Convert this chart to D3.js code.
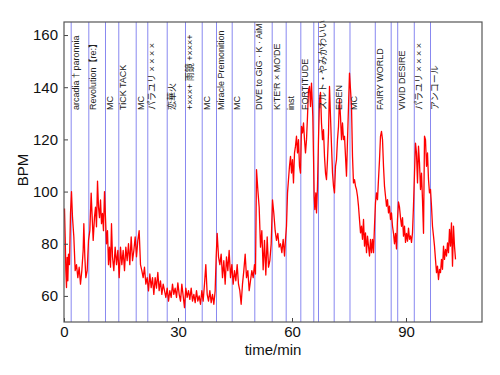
<!DOCTYPE html>
<html>
<head>
<meta charset="utf-8">
<script src="https://cdn.jsdelivr.net/npm/d3@7"></script>
<style>
html,body{margin:0;padding:0;background:#fff;}
svg{display:block;}
text{font-family:"Liberation Sans",Arial,"Noto Sans CJK JP",sans-serif;}
</style>
</head>
<body>
<svg id="chart" width="500" height="375"></svg>
<script>
// ---- data ----
const times = [
0.13,0.31,0.48,0.66,0.83,1.01,1.18,1.45,1.71,1.97,2.24,2.59,2.94,3.29,3.64,3.99,4.34,4.69,5.04,5.22,
5.48,5.75,6.10,6.45,6.80,7.15,7.41,7.68,8.03,8.29,8.55,8.82,9.08,9.34,9.61,9.87,10.13,10.39,10.66,10.92,
11.18,11.45,11.71,11.97,12.24,12.50,12.76,13.11,13.46,13.82,14.17,14.52,14.87,15.22,15.57,15.92,16.27,16.62,16.97,17.32,
17.68,18.03,18.38,18.73,19.08,19.43,19.78,20.13,20.48,20.83,21.18,21.54,21.89,22.24,22.59,22.94,23.29,23.64,23.99,24.34,
24.69,25.04,25.39,25.75,26.10,26.45,26.80,27.15,27.50,27.85,28.20,28.55,28.90,29.25,29.61,29.96,30.31,30.66,31.01,31.36,
31.71,32.06,32.41,32.76,33.11,33.47,33.82,34.17,34.52,34.87,35.22,35.57,35.92,36.27,36.62,36.97,37.32,37.68,38.03,38.38,
38.73,39.08,39.43,39.78,40.04,40.31,40.66,41.01,41.36,41.71,42.06,42.41,42.76,43.11,43.46,43.82,44.17,44.52,44.87,45.22,
45.57,45.92,46.27,46.62,46.97,47.32,47.68,48.03,48.38,48.73,49.08,49.43,49.78,50.13,50.39,50.66,51.01,51.36,51.71,52.06,
52.41,52.76,53.11,53.47,53.82,54.17,54.52,54.87,55.22,55.57,55.92,56.27,56.62,56.97,57.33,57.68,58.03,58.29,58.55,58.82,
59.08,59.34,59.61,59.87,60.13,60.39,60.66,60.92,61.18,61.45,61.71,61.97,62.24,62.50,62.76,63.03,63.29,63.55,63.82,64.08,
64.34,64.61,64.87,65.13,65.31,65.48,65.66,65.83,66.01,66.27,66.45,66.71,66.97,67.24,67.50,67.76,68.03,68.29,68.55,68.82,
69.08,69.34,69.61,69.87,70.13,70.40,70.66,70.92,71.18,71.45,71.71,71.97,72.24,72.50,72.76,73.03,73.29,73.55,73.82,74.08,
74.34,74.61,74.87,75.13,75.40,75.66,75.92,76.18,76.45,76.71,76.97,77.24,77.50,77.76,78.03,78.29,78.55,78.82,79.08,79.34,
79.61,79.87,80.13,80.40,80.66,80.92,81.18,81.45,81.71,81.97,82.24,82.50,82.76,83.03,83.29,83.55,83.82,84.08,84.34,84.61,
84.87,85.13,85.40,85.66,85.92,86.18,86.45,86.71,86.97,87.24,87.50,87.76,88.03,88.29,88.55,88.82,89.08,89.34,89.61,89.87,
90.13,90.40,90.66,90.92,91.18,91.45,91.71,91.97,92.24,92.50,92.76,93.03,93.29,93.55,93.82,94.08,94.34,94.61,94.87,95.13,
95.40,95.66,95.92,96.18,96.45,96.71,96.97,97.24,97.50,97.76,98.03,98.29,98.55,98.82,99.08,99.34,99.61,99.87,100.13,100.40,
100.66,100.92,101.18,101.45,101.71,101.97,102.24,102.50,102.76,103.03
];
const bpm = [
93.5,82.6,69.7,63.2,74.8,65.8,76,72,91.6,100,90,82.6,69.7,72,67,71,64.5,69.7,77.4,87.7,
75,67,69.7,81.3,85,99.4,90.3,81.3,90.3,94,86.5,104,94,90,96.8,87.7,91.6,85,100,90,
80,85,72,78.7,71,87.7,75,69.7,78.7,72,77.4,67,78.7,72,77.4,69.7,78.7,73.5,80,72,
82.6,73.5,77.4,82.6,75,81.3,85,72,69.7,67,71,64.5,67,61.9,68.4,63.2,67,60.6,67,63,
69,62,65.8,60.6,64.5,62,59.4,63,58,62,59.4,64.5,60.6,63,59.4,65,60.6,58,64.5,60,
55.5,63,59.4,62,58.7,63,58,60.6,57.4,62,58,60,56.8,62,58,64.5,72,60.6,58,62,
57.4,60.6,56.8,62,74.8,84,75,72,76,67,73.5,64.5,75,69.7,77.4,67,72,64.5,69.7,65.8,
72,64.5,62,56.8,64.5,69.7,76,67,69.7,62,65.8,69.7,67,72,68.4,108.4,100.6,94,78.7,85,
70,81.3,68,82.6,71,73.5,80,96.8,91.6,85,81.3,84,78.7,80,76.6,81.7,75.3,81.7,86.7,99.5,
104.6,109.7,113.5,107.1,112.2,103.3,114.8,117.4,121.2,114.8,119.9,109.7,107.1,125,122.5,126.3,119.9,114.8,119.9,128.8,
139,140.3,132.6,141.6,135.2,128.8,113.5,98.2,93.1,99.5,91.8,102.1,119.9,135,138,126.3,119.9,123.7,113.5,107.1,
104.6,112.2,122.5,140.3,128.8,117.4,107.1,102.1,99.5,109.7,112.2,119.9,125,135.2,128.8,119.9,126.3,119.9,121.2,113.5,
105.9,119.9,132.6,145.4,139,132.6,113.5,103.3,104.6,102.1,100.8,98.2,94.4,89.3,84.2,86.7,81.7,89.3,79.1,84.2,
76.6,82.9,79.1,75.3,81.7,76.6,81.7,76.6,86.7,95.7,99.5,96.9,104.6,112.2,121.2,123.1,119.9,109.7,102.1,98.2,
94.4,96.9,91.8,94.4,89.3,91.8,86.7,84,80,84,78,89.3,96,94,90,86.7,90,82.9,86.7,80.5,
84,81,86,81.7,83,80.5,84.2,94.4,107.1,118.6,114.8,103.3,117.4,111,100.8,107.1,96.9,84,121.2,119.9,
109.7,114.8,104.6,99.5,100.8,94.4,86.7,82.9,79.1,74,68.9,71.4,66.3,70.2,68.9,74,70.2,79.1,74,77.8,
75.3,80.3,76.6,85.5,79.1,88,71.4,86.7,79.1,74
];
const sectionStarts = [1.89,6.53,10.92,14.42,19.0,22.05,27.16,31.97,36.37,40.13,44.26,50.21,54.79,58.47,62.32,65.74,66.97,71.1,75.26,81.92,86.1,87.82,92.18,96.45];
const sectionLabels = ["arcadia † paronnia","Revolution【re:】","MC","TiCK TACK","MC","パラユリ × × × ×","恋華火","+×××+ 雨鏡 +×××+","MC","Miracle Premonition","MC","DIVE to GiG · K · AiM","K'TE'R × MO'DE","inst","FORTITUDE","","スルト・やみかわいい","EDEN","MC","FAIRY WORLD","","VIVID DESIRE","パラユリ × × × ×","アンコール"];
const xTicks = [0,30,60,90];
const yTicks = [60,80,100,120,140,160];

// ---- layout ----
const L = 64, R = 482, T = 22, B = 322;
const svg = d3.select("#chart");
const x = d3.scaleLinear().domain([0,110]).range([L,R]);
const y = d3.scaleLinear().domain([50,165]).range([B,T]);

// section lines
svg.append("g").selectAll("line").data(sectionStarts).join("line")
  .attr("x1", d => x(d)).attr("x2", d => x(d))
  .attr("y1", T).attr("y2", B)
  .attr("stroke", "#8888f0").attr("stroke-width", 1);

// heart-rate line
const pts = times.map((t,i) => [t, bpm[i]]);
svg.append("path").datum(pts)
  .attr("fill","none").attr("stroke","#ff0000").attr("stroke-width",1.3)
  .attr("stroke-linejoin","round")
  .attr("d", d3.line().x(d => x(d[0])).y(d => y(d[1])));

// section labels
svg.append("g").selectAll("text").data(sectionStarts.map((s,i)=>({s, l:sectionLabels[i]})).filter(d=>d.l))
  .join("text")
  .attr("transform", d => `translate(${x(d.s)+7.5},110) rotate(-90)`)
  .attr("font-size", 9).attr("fill", "#222")
  .text(d => d.l);

// axes
const xAxis = d3.axisBottom(x).tickValues(xTicks).tickSize(-4).tickPadding(4).tickFormat(d3.format("d"));
const yAxis = d3.axisLeft(y).tickValues(yTicks).tickSize(-4).tickPadding(6).tickFormat(d3.format("d"));
const gx = svg.append("g").attr("transform", `translate(0,${B})`).call(xAxis);
const gy = svg.append("g").attr("transform", `translate(${L},0)`).call(yAxis);
[gx,gy].forEach(g => {
  g.select(".domain").remove();
  g.selectAll(".tick line").attr("stroke","#444");
  g.selectAll(".tick text").attr("font-size",15).attr("fill","#111")
    .attr("font-family",'"Liberation Sans",Arial,sans-serif');
});

// frame
svg.append("rect").attr("x",L).attr("y",T).attr("width",R-L).attr("height",B-T)
  .attr("fill","none").attr("stroke","#555").attr("stroke-width",1.2);

// axis titles
svg.append("text").attr("x",(L+R)/2).attr("y",355).attr("text-anchor","middle")
  .attr("font-size",15).attr("fill","#111").text("time/min");
svg.append("text").attr("transform",`translate(28,170) rotate(-90)`).attr("text-anchor","middle")
  .attr("font-size",15).attr("fill","#111").text("BPM");
</script>
</body>
</html>
